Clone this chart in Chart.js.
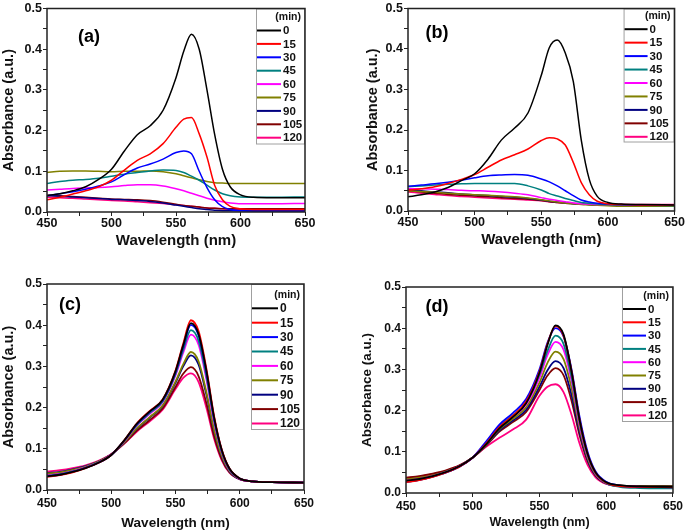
<!DOCTYPE html>
<html lang="en">
<head>
    <meta charset="UTF-8">
    <title>Absorbance spectra</title>
    <script src="https://cdn.jsdelivr.net/npm/chart.js"></script>
    <style>
        body {
            margin: 0;
            background: #fff;
        }
        .wrap {
            position: relative;
            width: 685px;
            height: 531px;
        }
        canvas {
            position: absolute;
        }
    </style>
</head>
<body>
<div class="wrap">
    <canvas id="chartA" width="340" height="255" style="left:0;top:0"></canvas>
    <canvas id="chartB" width="345" height="255" style="left:340px;top:0"></canvas>
    <canvas id="chartC" width="340" height="266" style="left:0;top:265px"></canvas>
    <canvas id="chartD" width="345" height="266" style="left:340px;top:265px"></canvas>
</div>
<script>
// wavelength grid (nm) shared by all spectra
const wavelength = [450, 460, 470, 480, 490, 500, 510, 520, 530, 540, 550, 556, 562, 568, 574, 580, 586, 592, 600, 610, 625, 650];
// irradiation time (min), one curve each
const times = ['0', '15', '30', '45', '60', '75', '90', '105', '120'];
const lineColors = ['#000000', '#ff0000', '#0000ff', '#008080', '#ff00ff', '#808000', '#000080', '#800000', '#ff0080'];

const absA = [
    [.040, .045, .052, .062, .080, .105, .150, .190, .212, .250, .330, .395, .437, .400, .300, .190, .105, .062, .042, .036, .035, .035],
    [.030, .036, .044, .052, .062, .078, .103, .127, .143, .168, .208, .228, .232, .192, .135, .065, .030, .014, .008, .006, .006, .006],
    [.040, .045, .050, .056, .064, .074, .092, .108, .118, .130, .146, .150, .143, .100, .060, .030, .013, .006, .003, .002, .002, .002],
    [.070, .075, .078, .080, .083, .088, .093, .097, .101, .103, .102, .097, .088, .078, .066, .054, .045, .040, .037, .036, .036, .037],
    [.054, .056, .058, .059, .060, .062, .065, .067, .067, .064, .057, .052, .046, .040, .034, .029, .025, .022, .020, .020, .020, .021],
    [.097, .100, .101, .101, .100, .099, .100, .100, .101, .099, .094, .089, .084, .079, .075, .072, .071, .070, .070, .070, .070, .070],
    [.040, .039, .037, .035, .033, .031, .030, .028, .026, .022, .017, .014, .011, .008, .006, .004, .003, .003, .003, .003, .003, .003],
    [.041, .040, .038, .036, .034, .032, .031, .030, .028, .024, .019, .016, .014, .012, .010, .009, .008, .008, .008, .008, .008, .008],
    [.036, .035, .034, .032, .030, .028, .027, .025, .023, .021, .018, .016, .014, .012, .010, .009, .008, .007, .007, .006, .006, .006]
];

const absB = [
    [.035, .040, .047, .058, .075, .092, .128, .175, .205, .242, .335, .403, .422, .390, .320, .175, .078, .036, .021, .017, .016, .015],
    [.051, .055, .060, .068, .078, .090, .108, .126, .139, .153, .174, .181, .178, .163, .120, .070, .040, .024, .018, .016, .015, .015],
    [.061, .064, .067, .071, .076, .082, .087, .089, .090, .088, .079, .072, .062, .050, .038, .027, .022, .019, .017, .016, .015, .015],
    [.060, .062, .064, .066, .067, .068, .068, .068, .068, .062, .052, .043, .037, .031, .026, .021, .019, .017, .016, .015, .014, .013],
    [.055, .055, .054, .053, .051, .050, .049, .047, .044, .040, .033, .029, .026, .023, .020, .018, .017, .016, .016, .015, .015, .015],
    [.050, .048, .046, .044, .042, .040, .039, .037, .035, .032, .028, .025, .022, .020, .018, .016, .015, .014, .013, .012, .012, .012],
    [.053, .050, .047, .045, .042, .040, .038, .036, .034, .031, .027, .024, .022, .020, .018, .017, .016, .015, .015, .014, .014, .014],
    [.050, .047, .044, .041, .039, .037, .035, .033, .031, .029, .026, .023, .021, .019, .018, .017, .016, .015, .015, .014, .014, .014],
    [.047, .044, .041, .038, .036, .034, .032, .030, .029, .027, .025, .023, .021, .020, .019, .018, .017, .016, .016, .016, .016, .016]
];

const absC = [
    [.033, .037, .044, .053, .066, .085, .120, .161, .191, .219, .288, .351, .405, .378, .290, .177, .097, .052, .028, .021, .019, .018],
    [.032, .036, .043, .053, .066, .085, .120, .162, .192, .220, .290, .355, .412, .385, .295, .180, .098, .052, .028, .021, .019, .018],
    [.033, .037, .044, .054, .066, .085, .119, .160, .190, .218, .286, .348, .401, .375, .287, .175, .096, .051, .028, .021, .019, .018],
    [.034, .038, .045, .054, .067, .085, .119, .158, .187, .215, .282, .340, .388, .362, .277, .170, .093, .050, .028, .021, .019, .018],
    [.036, .039, .046, .055, .067, .086, .118, .157, .185, .213, .278, .333, .377, .352, .269, .165, .091, .049, .027, .021, .019, .018],
    [.040, .043, .049, .057, .069, .086, .115, .150, .177, .205, .263, .305, .335, .312, .238, .147, .083, .046, .027, .021, .019, .018],
    [.041, .044, .050, .058, .069, .086, .115, .149, .176, .204, .260, .300, .327, .304, .232, .144, .081, .045, .026, .021, .019, .018],
    [.036, .040, .047, .056, .068, .087, .113, .144, .170, .198, .250, .282, .298, .276, .211, .131, .075, .043, .026, .021, .019, .018],
    [.045, .048, .053, .060, .071, .087, .112, .142, .167, .195, .245, .272, .283, .262, .200, .125, .072, .042, .026, .021, .019, .018]
];

const absD = [
    [.030, .034, .041, .051, .065, .086, .118, .157, .184, .218, .292, .360, .407, .385, .295, .178, .095, .050, .026, .019, .016, .015],
    [.026, .031, .039, .050, .064, .086, .120, .160, .187, .222, .295, .362, .405, .382, .296, .178, .095, .049, .025, .017, .015, .014],
    [.027, .032, .040, .050, .064, .086, .125, .166, .194, .228, .300, .365, .400, .380, .300, .185, .100, .052, .027, .018, .015, .014],
    [.027, .032, .040, .050, .064, .086, .120, .162, .188, .220, .288, .345, .382, .362, .282, .172, .092, .048, .024, .015, .012, .011],
    [.030, .034, .041, .051, .065, .086, .119, .159, .185, .215, .280, .335, .367, .348, .272, .166, .089, .047, .024, .017, .015, .015],
    [.033, .037, .043, .052, .065, .086, .117, .155, .180, .208, .268, .316, .343, .325, .255, .157, .085, .045, .024, .017, .016, .016],
    [.032, .036, .042, .052, .065, .086, .116, .152, .176, .202, .258, .298, .320, .303, .238, .148, .081, .043, .023, .017, .016, .016],
    [.037, .041, .047, .055, .067, .086, .115, .149, .172, .197, .250, .285, .303, .286, .224, .140, .077, .042, .023, .018, .017, .017],
    [.036, .040, .046, .054, .066, .086, .112, .134, .154, .178, .236, .258, .264, .245, .190, .120, .068, .038, .022, .018, .017, .017]
];

const FONT = '"Liberation Sans", Arial, sans-serif';

// draws the closed frame, the boxed legend and the panel tag
const panelDecor = {
    id: 'panelDecor',
    afterDatasetsDraw(chart, args, o) {
        const ctx = chart.ctx;
        const a = chart.chartArea;
        ctx.save();

        const bx = a.right - o.boxW;
        const by = a.top;
        ctx.fillStyle = '#fff';
        ctx.fillRect(bx, by, o.boxW, o.boxH);
        ctx.strokeStyle = '#a0a0a0';
        ctx.lineWidth = 1;
        ctx.strokeRect(bx + 0.5, by + 0.5, o.boxW - 1, o.boxH - 1);

        ctx.fillStyle = '#111';
        ctx.textBaseline = 'middle';
        ctx.textAlign = 'right';
        ctx.font = 'bold ' + o.headSize + 'px ' + FONT;
        ctx.fillText('(min)', a.right - 4, by + o.headY);

        ctx.textAlign = 'left';
        ctx.font = 'bold ' + o.rowSize + 'px ' + FONT;
        chart.data.datasets.forEach((ds, i) => {
            const y = by + o.firstY + i * o.step;
            ctx.strokeStyle = ds.borderColor;
            ctx.lineWidth = 2;
            ctx.beginPath();
            ctx.moveTo(bx + 1, y);
            ctx.lineTo(bx + o.lineLen, y);
            ctx.stroke();
            ctx.fillStyle = '#111';
            ctx.fillText(ds.label, bx + o.lineLen + 2, y + 0.5);
        });

        ctx.strokeStyle = '#222';
        ctx.lineWidth = 1.5;
        ctx.strokeRect(a.left, a.top, a.right - a.left, a.bottom - a.top);

        ctx.fillStyle = '#000';
        ctx.textAlign = 'center';
        ctx.font = 'bold ' + o.tagSize + 'px ' + FONT;
        ctx.fillText(o.tag, o.tagX, o.tagY);
        ctx.restore();
    }
};

function makeChart(id, abs, p) {
    const datasets = abs.map((row, i) => ({
        label: times[i],
        data: wavelength.map((w, j) => ({x: w, y: row[j]})),
        borderColor: lineColors[i],
        borderWidth: p.lineW,
        pointRadius: 0,
        fill: false,
        cubicInterpolationMode: 'monotone'
    }));

    new Chart(document.getElementById(id), {
        type: 'line',
        data: {datasets: datasets},
        plugins: [panelDecor],
        options: {
            responsive: false,
            animation: false,
            events: [],
            layout: {padding: {top: p.padTop, right: p.padRight, left: 0, bottom: 0}},
            plugins: {
                legend: {display: false},
                tooltip: {enabled: false},
                panelDecor: p.decor
            },
            scales: {
                x: {
                    type: 'linear',
                    min: 450,
                    max: 650,
                    afterFit: s => { s.height = p.xH; },
                    border: {display: false},
                    grid: {drawOnChartArea: false, drawTicks: true, tickLength: 4, color: '#222', lineWidth: 1},
                    ticks: {
                        stepSize: 25,
                        autoSkip: false,
                        maxRotation: 0,
                        padding: p.xTickPad,
                        color: '#111',
                        font: {family: FONT, size: p.tickSize, weight: 'bold'},
                        callback: v => (v % 50 === 0 ? String(v) : '')
                    },
                    title: {
                        display: true,
                        text: 'Wavelength (nm)',
                        color: '#111',
                        padding: {top: 0, bottom: p.xTitlePad},
                        font: {family: FONT, size: p.xTitleSize, weight: 'bold'}
                    }
                },
                y: {
                    min: 0,
                    max: 0.5,
                    afterFit: s => { s.width = p.yW; },
                    border: {display: false},
                    grid: {drawOnChartArea: false, drawTicks: true, tickLength: 4, color: '#222', lineWidth: 1},
                    ticks: {
                        stepSize: 0.05,
                        autoSkip: false,
                        padding: 1,
                        color: '#111',
                        font: {family: FONT, size: p.tickSize, weight: 'bold'},
                        callback: v => (Math.round(v * 100) % 10 === 0 ? v.toFixed(1) : '')
                    },
                    title: {
                        display: true,
                        text: 'Absorbance (a.u.)',
                        color: '#111',
                        padding: {top: p.yTitlePad, bottom: 0},
                        font: {family: FONT, size: p.yTitleSize, weight: 'bold'}
                    }
                }
            }
        }
    });
}

makeChart('chartA', absA, {
    padTop: 6, padRight: 35, yW: 47, xH: 43, lineW: 1.5,
    tickSize: 12.5, xTickPad: 0, xTitleSize: 15, xTitlePad: 5, yTitleSize: 14.5, yTitlePad: 0,
    decor: {tag: '(a)', tagX: 89, tagY: 37, tagSize: 18, boxW: 49, boxH: 136, headY: 9, firstY: 22, step: 13.4, lineLen: 25, headSize: 10.5, rowSize: 11.5}
});

makeChart('chartB', absB, {
    padTop: 6, padRight: 10, yW: 68, xH: 44, lineW: 1.5,
    tickSize: 12.5, xTickPad: 0, xTitleSize: 15, xTitlePad: 6, yTitleSize: 14.5, yTitlePad: 24,
    decor: {tag: '(b)', tagX: 97, tagY: 33, tagSize: 18, boxW: 51, boxH: 134, headY: 8, firstY: 20.7, step: 13.45, lineLen: 24, headSize: 10.5, rowSize: 11.5}
});

makeChart('chartC', absC, {
    padTop: 19, padRight: 36, yW: 47, xH: 41, lineW: 1.8,
    tickSize: 12, xTickPad: 2, xTitleSize: 13.5, xTitlePad: 0, yTitleSize: 14.5, yTitlePad: 0,
    decor: {tag: '(c)', tagX: 70, tagY: 40, tagSize: 18, boxW: 53, boxH: 146, headY: 11, firstY: 24.3, step: 14.4, lineLen: 27, headSize: 10.5, rowSize: 12}
});

makeChart('chartD', absD, {
    padTop: 22, padRight: 11, yW: 66, xH: 38, lineW: 1.8,
    tickSize: 12, xTickPad: 2, xTitleSize: 12.5, xTitlePad: 1, yTitleSize: 13.5, yTitlePad: 19,
    decor: {tag: '(d)', tagX: 97, tagY: 42, tagSize: 18, boxW: 51, boxH: 135, headY: 9, firstY: 22, step: 13.3, lineLen: 24, headSize: 10.5, rowSize: 11.5}
});
</script>
</body>
</html>
